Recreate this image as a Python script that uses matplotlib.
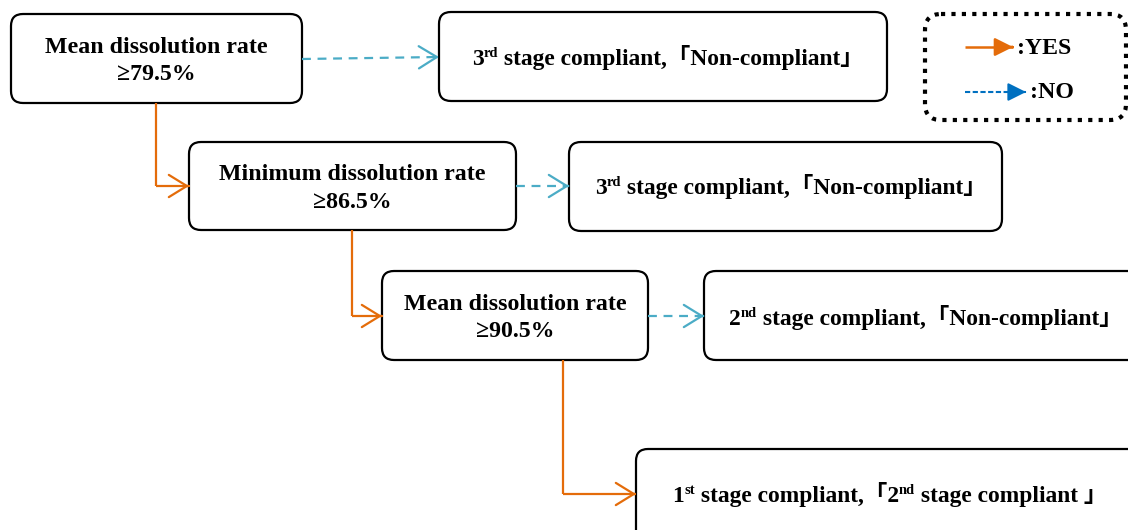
import matplotlib
matplotlib.use("Agg")
import matplotlib.pyplot as plt
from matplotlib.patches import FancyBboxPatch, FancyArrowPatch

# labels of the flowchart
conditions = [["Mean dissolution rate", "≥79.5%"],
              ["Minimum dissolution rate", "≥86.5%"],
              ["Mean dissolution rate", "≥90.5%"]]
# each outcome is a list of (text, superscript?) pieces
outcomes = [[("3", 0), ("rd", 1), (" stage compliant,「Non-compliant」", 0)],
            [("3", 0), ("rd", 1), (" stage compliant,「Non-compliant」", 0)],
            [("2", 0), ("nd", 1), (" stage compliant,「Non-compliant」", 0)],
            [("1", 0), ("st", 1), (" stage compliant,「2", 0), ("nd", 1), (" stage compliant 」", 0)]]
legend_labels = [":YES", ":NO"]

# layout in pixels (x0, y0, x1, y1), y grows downward
cond_boxes = [(11, 14, 302, 103), (189, 142, 516, 230), (382, 271, 648, 360)]
out_boxes = [(439, 12, 887, 101), (569, 142, 1002, 231), (704, 271, 1140, 360), (636, 449, 1140, 545)]
out_text_x = [668, 791, 926, 890]
out_text_y = [58, 187, 318, 495]

FONT = ["Liberation Serif", "Noto Sans CJK JP", "DejaVu Sans"]
FS = 17.2
FS_OUT = 16.9
ORANGE = "#E46C0A"
CYAN = "#4BACC6"
BLUE = "#0070C0"

fig = plt.figure(figsize=(11.28, 5.30), dpi=100)
ax = fig.add_axes([0, 0, 1, 1])
ax.set_xlim(0, 1128)
ax.set_ylim(530, 0)
ax.axis("off")
renderer = fig.canvas.get_renderer()


def rbox(b, ls="-", lw=1.6, r=12):
    x0, y0, x1, y1 = b
    p = FancyBboxPatch((x0, y0), x1 - x0, y1 - y0,
                       boxstyle="round,pad=0,rounding_size=%d" % r,
                       fc="white", ec="black", lw=lw, ls=ls, zorder=2)
    ax.add_patch(p)


def pieces_text(cx, cy, pieces):
    # measure each piece, then lay them out centred on cx
    arts = []
    for s, sup in pieces:
        t = ax.text(0, cy, s, fontsize=FS_OUT * 0.62 if sup else FS_OUT, fontweight="bold",
                    family=FONT, va="baseline", ha="left", zorder=5)
        arts.append(t)
    widths = []
    inv = ax.transData.inverted()
    for t in arts:
        bb = t.get_window_extent(renderer)
        p0 = inv.transform((bb.x0, bb.y0))
        p1 = inv.transform((bb.x1, bb.y0))
        widths.append(p1[0] - p0[0])
    x = cx - sum(widths) / 2
    base = cy + 7
    for (s, sup), t, w in zip(pieces, arts, widths):
        t.set_x(x)
        t.set_y(base - 8 if sup else base)
        x += w


for b, lab in zip(cond_boxes, conditions):
    rbox(b)
    cx = (b[0] + b[2]) / 2
    cy = (b[1] + b[3]) / 2
    ax.text(cx, cy - 11, lab[0], fontsize=FS, fontweight="bold", family=FONT,
            ha="center", va="center", zorder=5)
    ax.text(cx, cy + 16, lab[1], fontsize=FS, fontweight="bold", family=FONT,
            ha="center", va="center", zorder=5)

for b, lab, tx, ty in zip(out_boxes, outcomes, out_text_x, out_text_y):
    rbox(b)
    pieces_text(tx, ty, lab)


def arrow(p0, p1, color, ls="-", lw=1.6, style="->,head_length=13,head_width=8"):
    # line drawn on its own so the dash pattern does not touch the head
    ax.plot([p0[0], p1[0]], [p0[1], p1[1]], color=color, lw=lw, ls=ls, zorder=3,
            solid_capstyle="butt", dash_capstyle="butt")
    dx = (p1[0] - p0[0]) * 0.02
    dy = (p1[1] - p0[1]) * 0.02
    a = FancyArrowPatch((p1[0] - dx, p1[1] - dy), p1, arrowstyle=style, color=color, lw=lw,
                        mutation_scale=1, shrinkA=0, shrinkB=0, zorder=3)
    ax.add_patch(a)


# NO arrows (dashed)
dash = (0, (4, 3))
arrow((302, 59), (439, 57), CYAN, dash)
arrow((516, 186), (569, 186), CYAN, dash)
arrow((648, 316), (704, 316), CYAN, dash)

# YES arrows (elbow)
for x, y0, y1, x1 in [(156, 103, 186, 189), (352, 230, 316, 382), (563, 360, 494, 636)]:
    ax.plot([x, x], [y0, y1], color=ORANGE, lw=1.6, zorder=3, solid_capstyle="butt")
    arrow((x, y1), (x1, y1), ORANGE)

# legend
rbox((925, 14, 1126, 120), ls=(0, (1, 1.5)), lw=3, r=16)
arrow((965, 47), (1013, 47), ORANGE, lw=1.8, style="-|>,head_length=11,head_width=5.5")
arrow((965, 92), (1026, 92), BLUE, ls=(0, (2.5, 1.2)), lw=1.5,
      style="-|>,head_length=11,head_width=5.5")
ax.text(1017, 48, legend_labels[0], fontsize=FS, fontweight="bold", family=FONT,
        ha="left", va="center", zorder=5)
ax.text(1030, 93, legend_labels[1], fontsize=FS, fontweight="bold", family=FONT,
        ha="left", va="center", zorder=5)

fig.savefig("out.png", dpi=100)
